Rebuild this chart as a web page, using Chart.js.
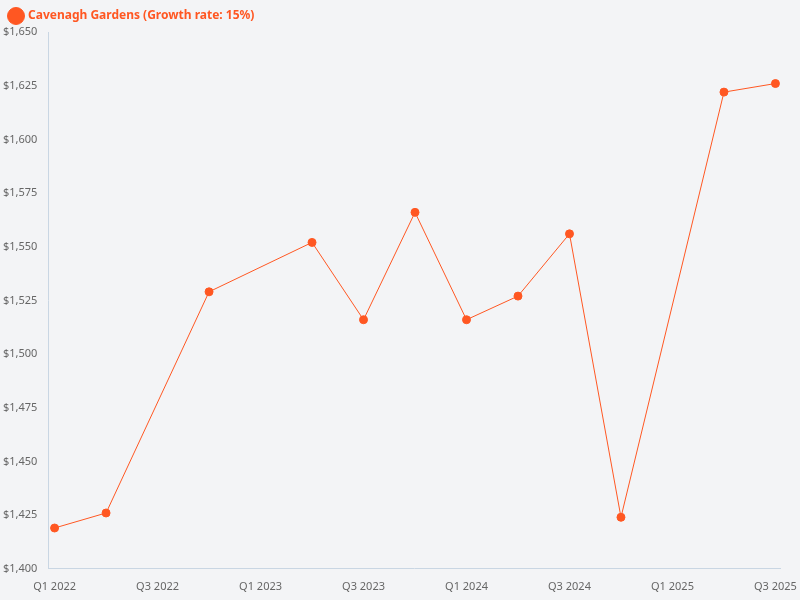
<!DOCTYPE html>
<html>
<head>
<meta charset="utf-8">
<script src="https://cdn.jsdelivr.net/npm/chart.js@4"></script>
<style>
    body { margin: 0; background: #f3f4f6; }
    #wrap { width: 800px; height: 600px; }
</style>
</head>
<body>
<div id="wrap"><canvas id="myChart"></canvas></div>
<script>
const quarters = [
    'Q1 2022', 'Q2 2022', 'Q3 2022', 'Q4 2022',
    'Q1 2023', 'Q2 2023', 'Q3 2023', 'Q4 2023',
    'Q1 2024', 'Q2 2024', 'Q3 2024', 'Q4 2024',
    'Q1 2025', 'Q2 2025', 'Q3 2025',
];

// quarter index of each observation (some quarters have no data)
const pointQuarter = [0, 1, 3, 5, 6, 7, 8, 9, 10, 11, 13, 14];
const prices = [1419, 1426, 1529, 1552, 1516, 1566, 1516, 1527, 1556, 1424, 1622, 1626];

const orange = '#ff5722';
Chart.defaults.font.family = '"Noto Sans", sans-serif';

const data = {
    datasets: [{
        label: 'Cavenagh Gardens (Growth rate: 15%)',
        data: pointQuarter.map((q, i) => ({ x: q, y: prices[i] })),
        borderColor: orange,
        backgroundColor: orange,
        borderWidth: 1,
        pointRadius: 4,
        pointBackgroundColor: orange,
        tension: 0,
    }]
}

const config = {
    type: 'line',
    data: data,
    options: {
        animation: false,
        maintainAspectRatio: false,
        layout: { padding: { right: 14, bottom: 4 } },
        plugins: {
            legend: {
                position: 'top',
                align: 'start',
                labels: {
                    color: orange,
                    usePointStyle: true,
                    font: { size: 12, weight: 'bold' },
                }
            },
            tooltip: { enabled: false }
        },
        scales: {
            x: {
                type: 'linear',
                min: -0.12,
                max: 14.1,
                grid: { display: false },
                border: { color: '#c9d6e3' },
                afterBuildTicks: (axis) => {
                    axis.ticks = [0, 2, 4, 6, 8, 10, 12, 14].map(v => ({ value: v }));
                },
                ticks: {
                    color: '#666',
                    font: { size: 11 },
                    maxRotation: 0,
                    callback: (v) => quarters[v]
                }
            },
            y: {
                min: 1400,
                max: 1650,
                grid: { display: false },
                border: { color: '#c9d6e3' },
                ticks: {
                    stepSize: 25,
                    color: '#666',
                    font: { size: 11 },
                    callback: (v) => '$' + v.toLocaleString('en-US')
                }
            }
        }
    }
}

const myChart = new Chart(document.getElementById('myChart'), config)
</script>
</body>
</html>
